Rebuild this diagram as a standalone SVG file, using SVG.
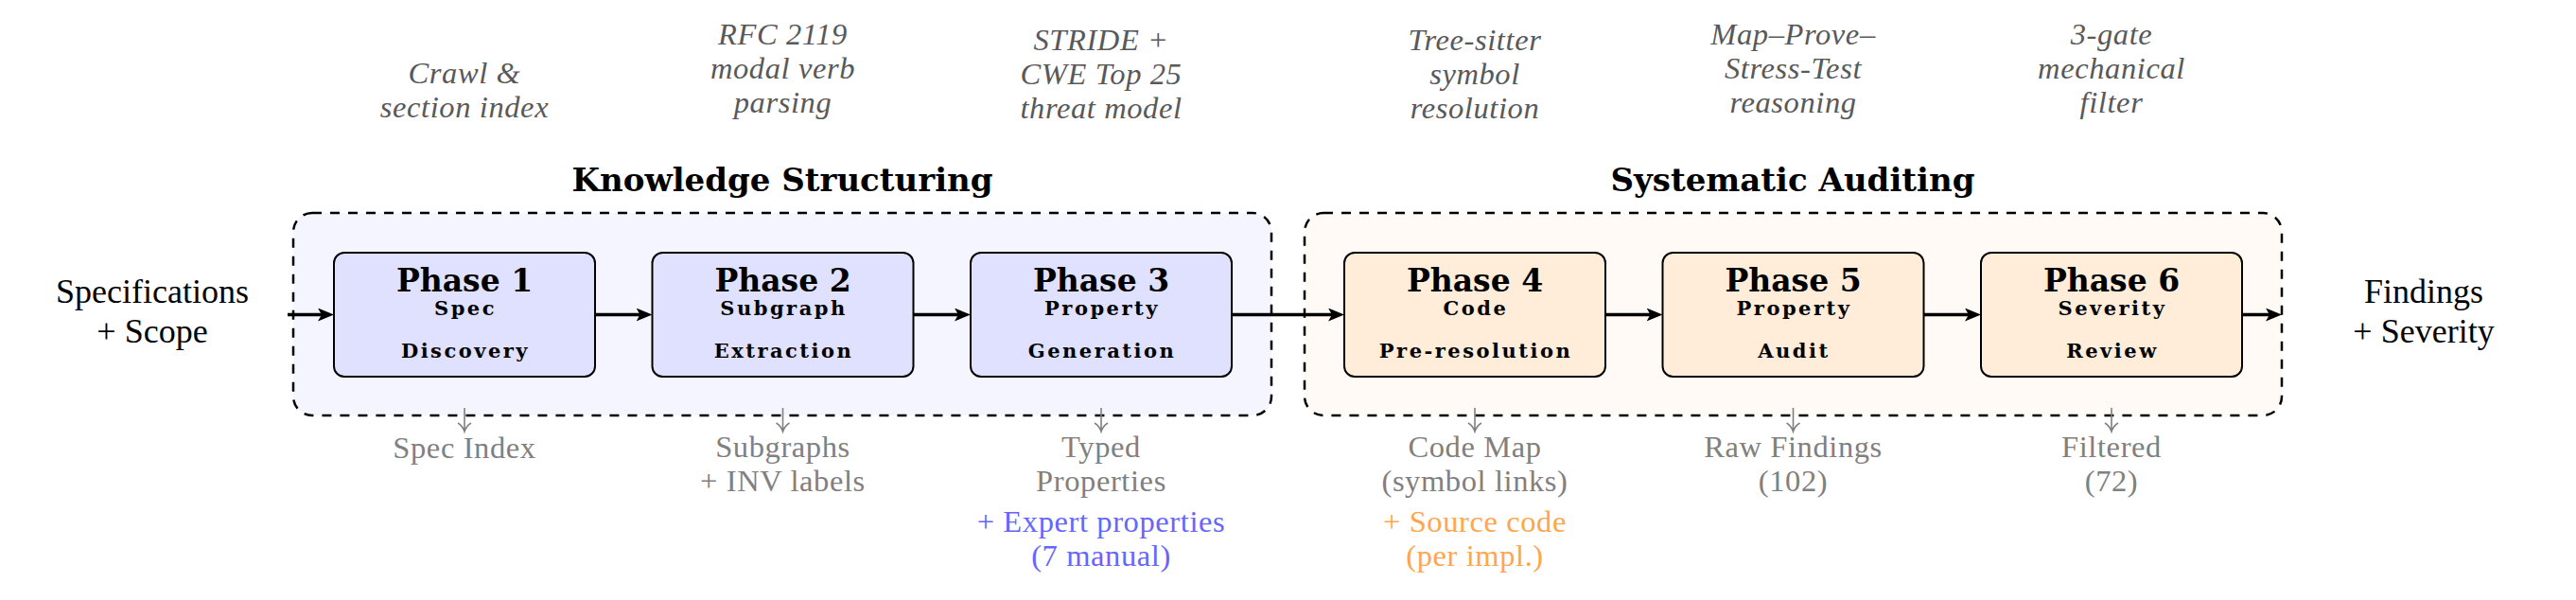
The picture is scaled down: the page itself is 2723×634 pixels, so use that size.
<svg xmlns="http://www.w3.org/2000/svg" width="2723" height="634" viewBox="0 0 2723 634">
<style>
.rm{font-family:"Liberation Serif",serif;font-size:36px;fill:#000;text-anchor:middle}
.it{font-family:"Liberation Serif",serif;font-style:italic;font-size:32.5px;letter-spacing:0.6px;fill:#595959;text-anchor:middle}
.gr{font-family:"Liberation Serif",serif;font-size:32.5px;letter-spacing:0.6px;fill:#808080;text-anchor:middle}
.bl{fill:#6666ff}
.or{fill:#ffa64d}
.gt{font-family:"DejaVu Serif",serif;font-weight:bold;font-size:34px;fill:#000;text-anchor:middle}
.pt{font-family:"DejaVu Serif",serif;font-weight:bold;font-size:33px;fill:#000;text-anchor:middle}
.ps{font-family:"DejaVu Serif",serif;font-weight:bold;font-size:21px;letter-spacing:2.5px;fill:#000;text-anchor:middle}
.grpL{fill:#f5f5ff;stroke:#000;stroke-width:2.5;stroke-dasharray:10 9}
.grpR{fill:#fffaf5;stroke:#000;stroke-width:2.5;stroke-dasharray:10 9}
.boxL{fill:#e0e0ff;stroke:#000;stroke-width:2}
.boxR{fill:#ffecd9;stroke:#000;stroke-width:2}
.conn{stroke:#000;stroke-width:3.5;fill:none;marker-end:url(#ah)}
.dn{stroke:#808080;stroke-width:1.6;fill:none}
</style>
<defs>
<marker id="ah" markerUnits="userSpaceOnUse" viewBox="0 0 17 14" refX="9" refY="7" markerWidth="17" markerHeight="14" orient="auto">
<path d="M0,0 L17,7 L0,14 L4,7 Z" fill="#000"/>
</marker>
</defs>

<g id="group-knowledge">
<rect class="grpL" x="310" y="225" width="1034" height="214" rx="20"/>
<text class="gt" x="827" y="202">Knowledge Structuring</text>
</g>
<g id="group-auditing">
<rect class="grpR" x="1379" y="225" width="1033" height="214" rx="20"/>
<text class="gt" x="1895" y="202">Systematic Auditing</text>
</g>

<g id="input">
<text class="rm" x="161" y="320">Specifications</text>
<text class="rm" x="161" y="362">+ Scope</text>
</g>
<g id="output">
<text class="rm" x="2562" y="320">Findings</text>
<text class="rm" x="2562" y="362">+ Severity</text>
</g>

<g id="phase1">
<rect class="boxL" x="353" y="267" width="276" height="131" rx="11"/>
<text class="pt" x="491" y="308">Phase 1</text>
<text class="ps" x="492" y="333">Spec</text>
<text class="ps" x="492" y="378">Discovery</text>
</g>
<g id="phase2">
<rect class="boxL" x="689.5" y="267" width="276" height="131" rx="11"/>
<text class="pt" x="827.5" y="308">Phase 2</text>
<text class="ps" x="828.5" y="333">Subgraph</text>
<text class="ps" x="828.5" y="378">Extraction</text>
</g>
<g id="phase3">
<rect class="boxL" x="1026" y="267" width="276" height="131" rx="11"/>
<text class="pt" x="1164" y="308">Phase 3</text>
<text class="ps" x="1165" y="333">Property</text>
<text class="ps" x="1165" y="378">Generation</text>
</g>
<g id="phase4">
<rect class="boxR" x="1421" y="267" width="276" height="131" rx="11"/>
<text class="pt" x="1559" y="308">Phase 4</text>
<text class="ps" x="1560" y="333">Code</text>
<text class="ps" x="1560" y="378">Pre-resolution</text>
</g>
<g id="phase5">
<rect class="boxR" x="1757.5" y="267" width="276" height="131" rx="11"/>
<text class="pt" x="1895.5" y="308">Phase 5</text>
<text class="ps" x="1896.5" y="333">Property</text>
<text class="ps" x="1896.5" y="378">Audit</text>
</g>
<g id="phase6">
<rect class="boxR" x="2094" y="267" width="276" height="131" rx="11"/>
<text class="pt" x="2232" y="308">Phase 6</text>
<text class="ps" x="2233" y="333">Severity</text>
<text class="ps" x="2233" y="378">Review</text>
</g>

<g id="methods">
<text class="it" x="491" y="87.5">Crawl &amp;</text>
<text class="it" x="491" y="123.5">section index</text>
<text class="it" x="827.5" y="46.5">RFC 2119</text>
<text class="it" x="827.5" y="82.5">modal verb</text>
<text class="it" x="827.5" y="118.5">parsing</text>
<text class="it" x="1164" y="53">STRIDE +</text>
<text class="it" x="1164" y="89">CWE Top 25</text>
<text class="it" x="1164" y="125">threat model</text>
<text class="it" x="1559" y="53">Tree-sitter</text>
<text class="it" x="1559" y="89">symbol</text>
<text class="it" x="1559" y="125">resolution</text>
<text class="it" x="1895.5" y="46.5">Map–Prove–</text>
<text class="it" x="1895.5" y="82.5">Stress-Test</text>
<text class="it" x="1895.5" y="118.5">reasoning</text>
<text class="it" x="2232" y="46.5">3-gate</text>
<text class="it" x="2232" y="82.5">mechanical</text>
<text class="it" x="2232" y="118.5">filter</text>
</g>

<g id="outputs">
<path class="dn" d="M491,431 V456 M484,447 Q489,450 491,456 Q493,450 498,447"/>
<path class="dn" d="M827.5,431 V456 M820.5,447 Q825.5,450 827.5,456 Q829.5,450 834.5,447"/>
<path class="dn" d="M1164,431 V456 M1157,447 Q1162,450 1164,456 Q1166,450 1171,447"/>
<path class="dn" d="M1559,431 V456 M1552,447 Q1557,450 1559,456 Q1561,450 1566,447"/>
<path class="dn" d="M1895.5,431 V456 M1888.5,447 Q1893.5,450 1895.5,456 Q1897.5,450 1902.5,447"/>
<path class="dn" d="M2232,431 V456 M2225,447 Q2230,450 2232,456 Q2234,450 2239,447"/>
<text class="gr" x="491" y="484">Spec Index</text>
<text class="gr" x="827.5" y="482.5">Subgraphs</text>
<text class="gr" x="827.5" y="518.5">+ INV labels</text>
<text class="gr" x="1164" y="482.5">Typed</text>
<text class="gr" x="1164" y="518.5">Properties</text>
<text class="gr bl" x="1164" y="561.5">+ Expert properties</text>
<text class="gr bl" x="1164" y="597.5">(7 manual)</text>
<text class="gr" x="1559" y="482.5">Code Map</text>
<text class="gr" x="1559" y="518.5">(symbol links)</text>
<text class="gr or" x="1559" y="561.5">+ Source code</text>
<text class="gr or" x="1559" y="597.5">(per impl.)</text>
<text class="gr" x="1895.5" y="482.5">Raw Findings</text>
<text class="gr" x="1895.5" y="518.5">(102)</text>
<text class="gr" x="2232" y="482.5">Filtered</text>
<text class="gr" x="2232" y="518.5">(72)</text>
</g>

<g id="connectors">
<line class="conn" x1="304" y1="332.5" x2="345" y2="332.5"/>
<line class="conn" x1="629" y1="332.5" x2="681.5" y2="332.5"/>
<line class="conn" x1="965.5" y1="332.5" x2="1018" y2="332.5"/>
<line class="conn" x1="1302" y1="332.5" x2="1413" y2="332.5"/>
<line class="conn" x1="1697" y1="332.5" x2="1749.5" y2="332.5"/>
<line class="conn" x1="2033.5" y1="332.5" x2="2086" y2="332.5"/>
<line class="conn" x1="2370" y1="332.5" x2="2404" y2="332.5"/>
</g>
</svg>
